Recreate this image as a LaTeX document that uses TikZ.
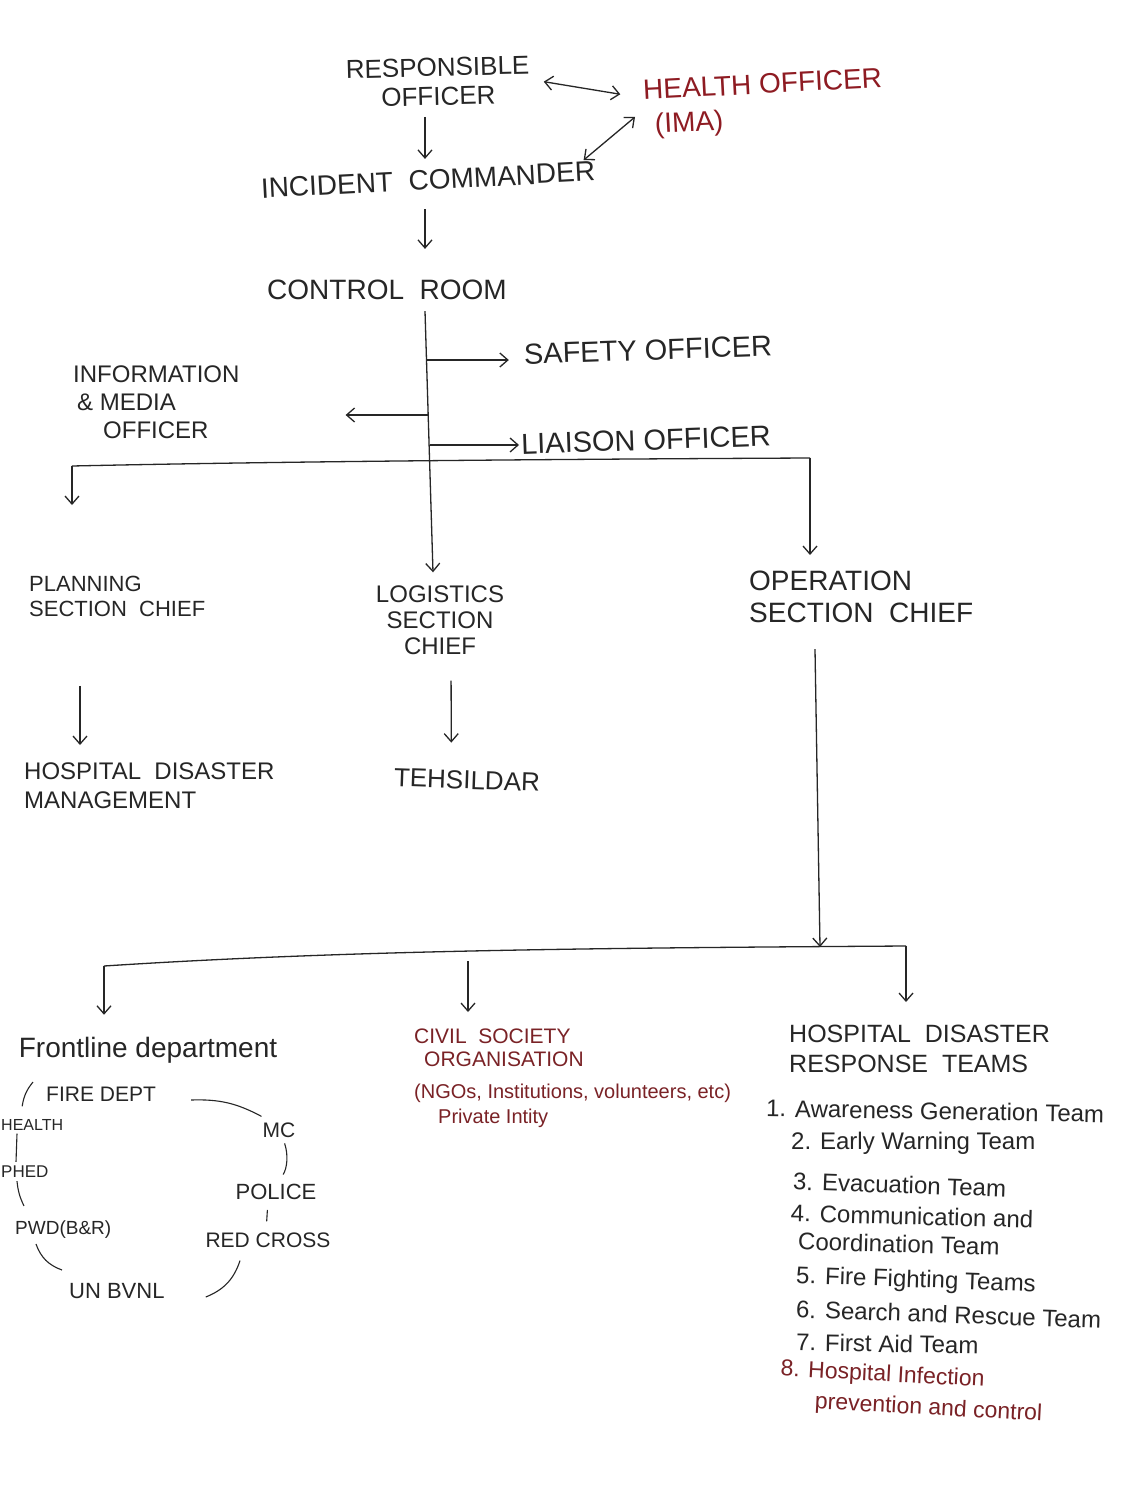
\documentclass[tikz,border=0pt]{standalone}
\usepackage{fontspec}
\setmainfont{Liberation Sans}
\usetikzlibrary{arrows.meta}
\definecolor{ink}{HTML}{262626}
\definecolor{redink}{HTML}{8E1B22}
\definecolor{maroon}{HTML}{7A2226}
\newcommand{\fsz}[2]{\fontsize{#1}{#2}\selectfont}
\tikzset{
  txt/.style={text=ink, inner sep=1pt, align=center},
  wire/.style={draw=ink, line width=1.3pt},
  thinwire/.style={draw=ink, line width=1.1pt},
  arr/.style={wire, -{Straight Barb[length=8pt,width=14pt]}},
  dbl/.style={wire, {Straight Barb[length=8pt,width=14pt]}-{Straight Barb[length=8pt,width=14pt]}},
  item/.style={txt, anchor=west, align=left, font=\fsz{24}{28}},
}
\begin{document}
\begin{tikzpicture}[x=1pt,y=-1pt]
\fill[white] (0,0) rectangle (1124,1509);
\useasboundingbox (0,0) rectangle (1124,1509);

% --- command chain ---
\coordinate (col) at (425,0);
\node[txt, font=\fsz{26}{29}, rotate=1.5] (resp) at (438,82) {RESPONSIBLE\\OFFICER};
\node[txt, text=redink, font=\fsz{28}{34}, align=left, anchor=west, rotate=3] (health) at (643,110) {HEALTH\ OFFICER\\\hspace*{10pt}(IMA)};
\node[txt, font=\fsz{28}{28}, rotate=3] (ic) at (428,180) {INCIDENT\ \ COMMANDER};
\node[txt, font=\fsz{28}{28}] (ctrl) at (387,290) {CONTROL\ \ ROOM};

\draw[dbl, shorten <=13pt, shorten >=23pt] (resp.east) -- ([yshift=12pt]health.west);
\draw[dbl] ([xshift=-12pt]ic.north east) -- ([xshift=-8pt,yshift=-7pt]health.west);
\draw[arr, shorten <=10pt, shorten >=10pt] (resp.south -| col) -- (ic.north -| col);
\draw[arr, shorten <=18pt, shorten >=30pt] (ic.south -| col) -- (ctrl.north -| col);

% --- staff officers ---
\node[txt, font=\fsz{29}{29}, rotate=2] (safety) at (648,350) {SAFETY OFFICER};
\node[txt, font=\fsz{29}{29}, rotate=2] (liaison) at (646,440) {LIAISON OFFICER};
\node[txt, align=left, anchor=north west, font=\fsz{24}{28}] (info) at (72,365) {INFORMATION\\\hspace*{4pt}\& MEDIA\\\hspace*{30pt}OFFICER};

% --- section chiefs ---
\node[txt, align=left, anchor=north west, font=\fsz{22}{25}] (planning) at (28,575) {PLANNING\\SECTION\ \ CHIEF};
\node[txt, font=\fsz{24}{26}] (logi) at (440,620) {LOGISTICS\\SECTION\\CHIEF};
\node[txt, align=left, anchor=north west, font=\fsz{28}{32}] (oper) at (748,570) {OPERATION\\SECTION\ \ CHIEF};

% main trunk from the control room
\draw[arr] ([yshift=-10pt]ctrl.south -| col) -- ([xshift=-7pt,yshift=12pt]logi.north);
\coordinate (j1) at (427,360);
\coordinate (j2) at (428.8,415);
\coordinate (j3) at (429.6,445);
\draw[arr, shorten >=14pt] (j1) -- (j1 -| safety.west);
\draw[arr, shorten >=1pt] (j3) -- (j3 -| liaison.west);
\draw[arr, shorten >=105pt] (j2) -- (j2 -| info.east);

% branch bar to the sections
\coordinate (bl) at (72,466);
\coordinate (br) at (810,458);
\draw[wire] (bl) .. controls (300,461) and (600,459) .. (br);
\draw[arr, shorten >=70pt] (bl) -- (bl |- planning.north);
\draw[arr, shorten >=15pt] (br) -- (br |- oper.north);

% --- under the sections ---
\node[txt, align=left, anchor=north west, font=\fsz{24}{29}] (hdm) at (23,762) {HOSPITAL\ \ DISASTER\\MANAGEMENT};
\node[txt, font=\fsz{26}{26}, rotate=-2] (tehs) at (467,780) {TEHSILDAR};
\coordinate (pcol) at (80,0);
\draw[arr, shorten <=68pt, shorten >=17pt] (planning.south -| pcol) -- (hdm.north -| pcol);
\draw[arr, shorten <=25pt, shorten >=27pt] ([xshift=11pt]logi.south) -- ([xshift=-16pt]tehs.north);

% operations branch bar
\coordinate (ocol) at (815,0);
\coordinate (bbl) at (104,966);
\coordinate (bmid) at (468,953);
\coordinate (bm) at (820,947);
\coordinate (bbr) at (906,946);
\draw[arr] ([yshift=-25pt]oper.south -| ocol) -- (bm);
\draw[wire] (bbl) .. controls (350,950) and (600,948) .. (bbr);

\node[txt, font=\fsz{28}{28}] (front) at (148,1050) {Frontline department};
\node[txt, text=maroon, align=left, anchor=north west, font=\fsz{21}{23}] (cso) at (413,1028) {CIVIL\ \ SOCIETY\\\hspace*{10pt}ORGANISATION};
\node[txt, text=maroon, align=left, anchor=north west, font=\fsz{20}{25}] (csonote) at (413,1083) {(NGOs, Institutions, volunteers, etc)\\\hspace*{24pt}Private Intity};
\node[txt, align=left, anchor=north west, font=\fsz{25}{30}] (hdrt) at (788,1024) {HOSPITAL\ \ DISASTER\\RESPONSE\ \ TEAMS};

\draw[arr, shorten >=21pt] (bbl) -- (bbl |- front.north);
\draw[arr, shorten <=8pt, shorten >=16pt] (bmid) -- (bmid |- cso.north);
\draw[arr, shorten >=22pt] (bbr) -- (bbr |- hdrt.north);

% --- response teams ---
\node[item, rotate=-1] (t1) at (765,1108) {1. Awareness Generation Team};
\node[item] (t2) at (790,1143) {2. Early Warning Team};
\node[item, rotate=-2] (t3) at (792,1181) {3. Evacuation Team};
\node[item, anchor=north west, rotate=-1.5] (t4) at (790,1203) {4. Communication and\\\hspace*{8pt}Coordination Team};
\node[item, rotate=-2] (t5) at (795,1277) {5. Fire Fighting Teams};
\node[item, rotate=-2] (t6) at (795,1309) {6. Search and Rescue Team};
\node[item, rotate=-1] (t7) at (795,1342) {7. First Aid Team};
\node[item, anchor=north west, text=maroon, font=\fsz{23}{31}, rotate=-3] (t8) at (780,1358) {8. Hospital Infection\\\hspace*{36pt}prevention and control};

% --- frontline departments ring ---
\node[txt, anchor=west, font=\fsz{21}{21}] (fire) at (45,1094) {FIRE DEPT};
\node[txt, anchor=west, font=\fsz{16}{16}] (healthf) at (0,1125) {HEALTH};
\node[txt, anchor=west, font=\fsz{17}{17}] (phed) at (0,1172) {PHED};
\node[txt, anchor=west, font=\fsz{19}{19}] (pwd) at (14,1230) {PWD(B\&R)};
\node[txt, anchor=west, font=\fsz{22}{22}] (unb) at (68,1291) {UN BVNL};
\node[txt, font=\fsz{21}{21}] (mc) at (279,1130) {MC};
\node[txt, font=\fsz{22}{22}] (police) at (276,1192) {POLICE};
\node[txt, font=\fsz{21}{21}] (redc) at (268,1240) {RED CROSS};

\draw[thinwire] ([xshift=-12pt,yshift=12pt]fire.west) to[bend right=15] ([xshift=-10pt,yshift=12pt]healthf.north);
\draw[thinwire] ([xshift=17pt,yshift=-2pt]healthf.south west) -- ([xshift=16pt,yshift=3pt]phed.north west);
\draw[thinwire] ([xshift=17pt,yshift=-2pt]phed.south west) to[bend right=10] ([xshift=10pt,yshift=14pt]pwd.north west);
\draw[thinwire] ([xshift=22pt,yshift=-4pt]pwd.south west) to[bend right=25] ([xshift=-6pt,yshift=21pt]unb.west);
\draw[thinwire] ([xshift=40pt,yshift=-6pt]unb.east) to[bend right=25] ([xshift=-28pt,yshift=-12pt]redc.south);
\draw[thinwire, shorten <=10pt, shorten >=9pt] ([xshift=-2pt]redc.north) -- ([xshift=-8pt]police.south);
\draw[thinwire, shorten <=5pt, shorten >=10pt] ([xshift=4pt]mc.south) to[bend left=25] ([xshift=2pt]police.north);
\draw[thinwire] ([xshift=34pt,yshift=-6pt]fire.east) to[bend left=15] ([yshift=5pt]mc.north west);
\end{tikzpicture}
\end{document}
